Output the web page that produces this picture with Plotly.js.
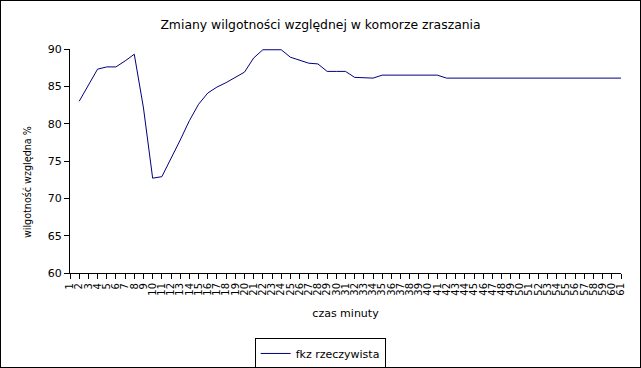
<!DOCTYPE html>
<html>
<head>
<meta charset="utf-8">
<script src="https://cdn.plot.ly/plotly-3.0.1.min.js"></script>
<style>
html,body{margin:0;padding:0;background:#fff;}
#chart{width:639px;height:366px;border:1px solid #000;}
</style>
</head>
<body>
<div id="chart"></div>
<script>
// Data
const minutes = [1,2,3,4,5,6,7,8,9,10,11,12,13,14,15,16,17,18,19,20,21,22,23,24,25,26,27,28,29,30,31,32,33,34,35,36,37,38,39,40,41,42,43,44,45,46,47,48,49,50,51,52,53,54,55,56,57,58,59,60,61];
const tickLabels = minutes.map(String);
const humidity = [null,83.0,85.2,87.3,87.6,87.6,88.4,89.3,82.1,72.7,72.9,75.3,77.8,80.4,82.6,84.1,84.9,85.5,86.2,86.9,88.8,89.9,89.9,89.9,88.9,88.5,88.1,88.0,87.0,87.0,87.0,86.2,86.1,86.1,86.5,86.5,86.5,86.5,86.5,86.5,86.5,86.1,86.1,86.1,86.1,86.1,86.1,86.1,86.1,86.1,86.1,86.1,86.1,86.1,86.1,86.1,86.1,86.1,86.1,86.1,86.1];
const seriesName = "fkz rzeczywista";
const chartTitle = "Zmiany wilgotności względnej w komorze zraszania";
const xTitle = "czas minuty";
const yTitle = "wilgotność względna %";

const font = "DejaVu Sans, Verdana, sans-serif";

const trace = {
  x: minutes,
  y: humidity,
  type: "scatter",
  mode: "lines",
  name: seriesName,
  line: {color: "#000080", width: 1},
  connectgaps: false,
  showlegend: true
};

const layout = {
  width: 639,
  height: 366,
  paper_bgcolor: "#ffffff",
  plot_bgcolor: "#ffffff",
  font: {family: font, size: 11, color: "#000"},
  margin: {l: 69, r: 19, t: 48, b: 94, pad: 0, autoexpand: false},
  title: {text: chartTitle, font: {family: font, size: 12.4, color: "#000"}, x: 0.5, xanchor: "center", y: 0.935, yanchor: "middle"},
  xaxis: {
    range: [1, 61],
    automargin: false,
    tickmode: "array",
    tickvals: minutes,
    ticktext: tickLabels,
    tickangle: -90,
    tickfont: {family: font, size: 10, color: "#000"},
    ticks: "outside",
    ticklen: 5,
    tickcolor: "#000",
    showline: true,
    linecolor: "#000",
    linewidth: 1,
    showgrid: false,
    zeroline: false,
    title: {text: xTitle, font: {family: font, size: 11, color: "#000"}, standoff: 14}
  },
  yaxis: {
    range: [60, 90],
    automargin: false,
    dtick: 5,
    tick0: 60,
    tickfont: {family: font, size: 11, color: "#000"},
    ticks: "outside",
    ticklen: 5,
    tickcolor: "#000",
    showline: true,
    linecolor: "#000",
    linewidth: 1,
    showgrid: false,
    zeroline: false
  },
  annotations: [{
    text: yTitle,
    xref: "paper", yref: "paper",
    x: -0.078, y: 0.406,
    xanchor: "center", yanchor: "middle",
    textangle: -90,
    showarrow: false,
    font: {family: font, size: 9.6, color: "#000"}
  }],
  showlegend: true,
  legend: {
    orientation: "h",
    x: 0.454,
    xanchor: "center",
    y: -0.29,
    yanchor: "top",
    bordercolor: "#000",
    borderwidth: 1,
    bgcolor: "#fff",
    font: {family: font, size: 11, color: "#000"}
  }
};

Plotly.newPlot("chart", [trace], layout, {displayModeBar: false, staticPlot: true});
</script>
</body>
</html>
